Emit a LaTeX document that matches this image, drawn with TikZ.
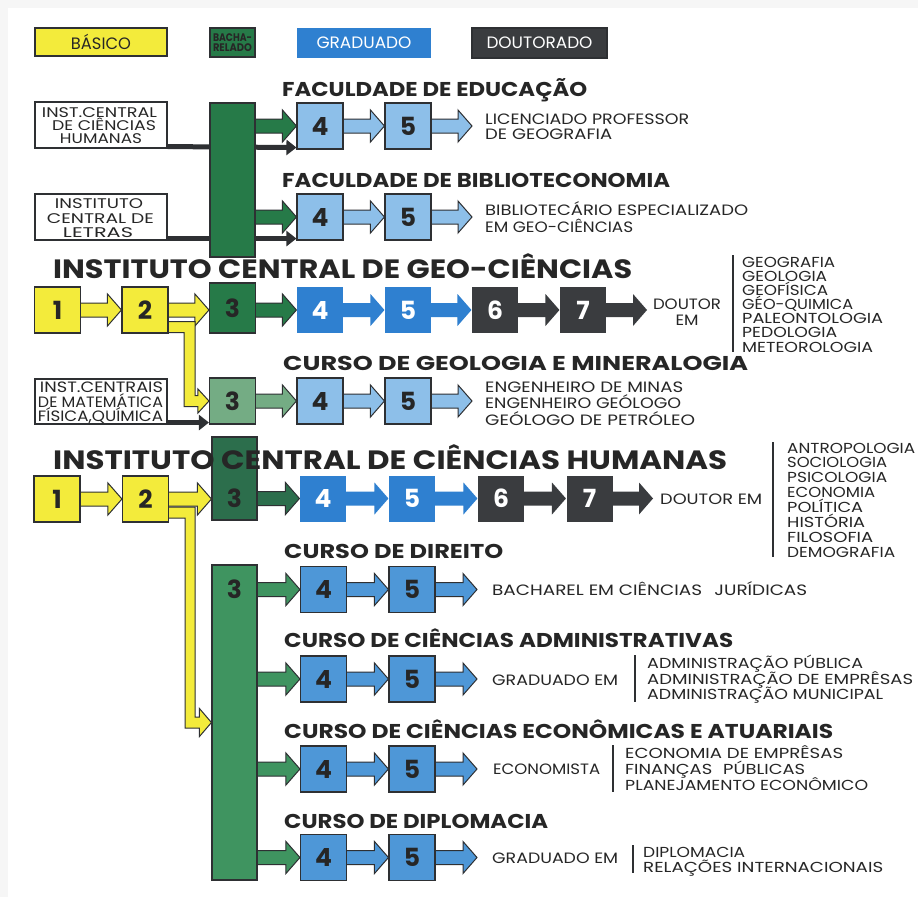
\documentclass[tikz,border=0pt]{standalone}
\usepackage{graphicx}
\usepackage{fontspec}
\setmainfont{Poppins}
\usetikzlibrary{calc,arrows.meta}
\pgfdeclarelayer{back}
\pgfdeclarelayer{arr}
\pgfsetlayers{back,arr,main}
\definecolor{ylw}{HTML}{F3EB3B}
\definecolor{dgreen}{HTML}{267A48}
\definecolor{hgreen}{HTML}{2C6E4C}
\definecolor{lgreen}{HTML}{74AC84}
\definecolor{mgreen}{HTML}{3F9460}
\definecolor{dblue}{HTML}{2F80D0}
\definecolor{lblue}{HTML}{8DBFE9}
\definecolor{mblue}{HTML}{4E97D7}
\definecolor{dark}{HTML}{3A3C3F}
\definecolor{outl}{HTML}{2E3033}
\definecolor{txt}{HTML}{262626}
\newcommand\numfont{\fontsize{25}{25}\selectfont\bfseries}
\newcommand\smfont{\fontsize{15}{15}\selectfont}
\newcommand\lstfont{\fontsize{14.5}{14.5}\selectfont}
\newcommand\ttlfont{\fontsize{20}{20}\selectfont\bfseries}
\newcommand\bigfont{\fontsize{26.5}{26.5}\selectfont\bfseries}
\newcommand\boxfont{\fontsize{14}{14}\selectfont}
\newcommand\legfont{\fontsize{16.5}{16.5}\selectfont}
\newcommand\fw[2]{\resizebox{#1pt}{\height}{#2}}
\newcommand\barrow[3]{\path[#1] let \p1=#2, \p2=#3 in
  (\x1-3pt,\y2+7pt) -- (\x2-14pt,\y2+7pt) -- (\x2-14pt,\y2+16pt) -- (\x2,\y2)
  -- (\x2-14pt,\y2-16pt) -- (\x2-14pt,\y2-7pt) -- (\x1-3pt,\y2-7pt) -- cycle;}
\begin{document}
\begin{tikzpicture}[x=1pt,y=-1pt,
  nbox/.style={draw=outl,line width=1.1pt,inner sep=0pt,minimum width=46pt,minimum height=46pt,font=\numfont,text=txt},
  nobox/.style={nbox,draw=none,text=white},
  leg/.style={draw=outl,line width=1.1pt,inner sep=0pt,font=\legfont,text=txt},
  wbox/.style={draw=outl,fill=white,line width=1.1pt,inner sep=0pt},
  colbox/.style={draw=outl,line width=1.1pt,inner sep=0pt},
  numtxt/.style={inner sep=0pt,font=\numfont,text=txt},
  bt/.style={anchor=base,inner sep=0pt,font=\boxfont,text=txt},
  ttl/.style={anchor=base west,inner sep=0pt,font=\ttlfont,text=txt},
  bigttl/.style={anchor=base west,inner sep=0pt,font=\bigfont,text=txt},
  lbl/.style={anchor=base west,inner sep=0pt,font=\smfont,text=txt},
  lblc/.style={anchor=base,inner sep=0pt,font=\smfont,text=txt},
  lst/.style={anchor=base west,inner sep=0pt,font=\lstfont,text=txt},
  sepline/.style={draw=outl,line width=1.6pt},
  thinarr/.style={draw=outl,line width=5pt,-{Triangle[length=10pt,width=15pt]}},
  oarr/.style={draw=outl,line width=1pt,line join=miter},
  yarr/.style={oarr,fill=ylw},
  garr/.style={oarr,fill=dgreen},
  hgarr/.style={oarr,fill=hgreen},
  lgarr/.style={oarr,fill=lgreen},
  mgarr/.style={oarr,fill=mgreen},
  lbarr/.style={oarr,fill=lblue},
  mbarr/.style={oarr,fill=mblue},
  dbarr/.style={fill=dblue},
  dkarr/.style={fill=dark}
]
\begin{pgfonlayer}{back}
\fill[gray!7] (0,0) rectangle (918,897);
\fill[white] (8,8) rectangle (918,897);
\end{pgfonlayer}
\useasboundingbox (0,0) rectangle (918,897);

% legend
\node[leg,fill=ylw,minimum width=132pt,minimum height=28pt] (legBas) at (101,42) {\fw{60}{BÁSICO}};
\node[leg,fill=dgreen,minimum width=45pt,minimum height=29pt,font=\fontsize{11}{10}\selectfont\bfseries,align=center] (legBac) at (232.5,42.5) {\fw{39}{BACHA-}\\\fw{39}{RELADO}};
\node[leg,fill=dblue,draw=none,text=white,minimum width=134pt,minimum height=30pt] (legGra) at (364,43) {\fw{95}{GRADUADO}};
\node[leg,fill=dark,text=white,minimum width=135pt,minimum height=30pt] (legDou) at (539.5,43) {\fw{106}{DOUTORADO}};

% left boxes
\node[wbox,minimum width=132pt,minimum height=46pt] (LB1) at (101,125) {};
\node[bt] (lb1a) at (99.5,117) {\fw{115}{INST.CENTRAL}};
\node[bt] (lb1b) at (104,130) {\fw{104}{DE CIÊNCIAS}};
\node[bt] (lb1c) at (101,143) {\fw{82}{HUMANAS}};
\node[wbox,minimum width=132pt,minimum height=46pt] (LB2) at (101,217) {};
\node[bt] (lb2a) at (99,208) {\fw{88}{INSTITUTO}};
\node[bt] (lb2b) at (100.5,223) {\fw{107}{CENTRAL DE}};
\node[bt] (lb2c) at (98,237) {\fw{70}{LETRAS}};
\node[wbox,minimum width=132pt,minimum height=45pt] (LB3) at (101,401.5) {};
\node[bt,font=\fontsize{15}{15}\selectfont] (lb3a) at (101.5,392) {\fw{123}{INST.CENTRAIS}};
\node[bt,font=\fontsize{15}{15}\selectfont] (lb3b) at (100.5,407) {\fw{125}{DE MATEMÁTICA}};
\node[bt,font=\fontsize{15}{15}\selectfont] (lb3c) at (100.5,421) {\fw{125}{FÍSICA,QUÍMICA}};

% columns
\node[colbox,fill=dgreen,minimum width=45pt,minimum height=154pt] (TopCol) at (232.5,180) {};
\node[colbox,fill=mgreen,minimum width=45pt,minimum height=315pt] (BotCol) at (234.5,722.5) {};
\node[numtxt] (botcol3) at (234.5,589.5) {3};

% rows
\node[nbox,fill=lblue] (E4) at (320,126) {4};
\node[nbox,fill=lblue] (E5) at (408,126) {5};
\node[nbox,fill=lblue] (B4) at (320,217) {4};
\node[nbox,fill=lblue] (B5) at (408,217) {5};

\node[nbox,fill=ylw] (G1) at (57.5,310) {1};
\node[nbox,fill=ylw] (G2) at (145,310) {2};
\node[nbox,fill=dgreen,minimum height=50pt] (G3) at (232.5,308) {3};
\node[nobox,fill=dblue] (G4) at (320,310) {4};
\node[nobox,fill=dblue] (G5) at (408,310) {5};
\node[nobox,fill=dark] (G6) at (495,310) {6};
\node[nobox,fill=dark] (G7) at (583,310) {7};

\node[nbox,fill=lgreen] (L3) at (232.5,401) {3};
\node[nbox,fill=lblue] (L4) at (320,401) {4};
\node[nbox,fill=lblue] (L5) at (408,401) {5};

\node[nbox,fill=ylw] (H1) at (57,499) {1};
\node[nbox,fill=ylw] (H2) at (145.5,499) {2};
\node[colbox,fill=hgreen,minimum width=45pt,minimum height=83pt] (H3) at (234.5,478.5) {};
\node[numtxt] (h3num) at (234.5,498.5) {3};
\node[nobox,fill=dblue] (H4) at (323,498.5) {4};
\node[nobox,fill=dblue] (H5) at (412,498.5) {5};
\node[nobox,fill=dark] (H6) at (501,498.5) {6};
\node[nobox,fill=dark] (H7) at (589.5,498.5) {7};

\node[nbox,fill=mblue] (D4) at (323.5,589.5) {4};
\node[nbox,fill=mblue] (D5) at (412,589.5) {5};
\node[nbox,fill=mblue] (A4) at (323.5,679) {4};
\node[nbox,fill=mblue] (A5) at (412,679) {5};
\node[nbox,fill=mblue] (C4) at (323.5,769) {4};
\node[nbox,fill=mblue] (C5) at (412,769) {5};
\node[nbox,fill=mblue] (P4) at (323.5,857.5) {4};
\node[nbox,fill=mblue] (P5) at (412,857.5) {5};

\coordinate (eE) at (472,126);
\coordinate (eB) at (472,217);
\coordinate (eL) at (472,401);
\coordinate (eG) at (647,310);
\coordinate (eH) at (653,498.5);
\coordinate (eD) at (477,589.5);
\coordinate (eA) at (477,679);
\coordinate (eC) at (477,769);
\coordinate (eP) at (477,857.5);

\begin{pgfonlayer}{arr}
\draw[thinarr] ($(LB1.south east)+(0,-2)$) -- ($(E4.south west)+(0,-2)$);
\draw[thinarr] ($(LB2.south east)+(0,-2)$) -- ($(B4.south west)+(0,-2)$);
\draw[thinarr] ($(LB3.south east)+(0,-2)$) -- ($(L3.south west)+(0,-2)$);

\barrow{garr}{(TopCol.east)}{(E4.west)}
\barrow{garr}{(TopCol.east)}{(B4.west)}
\barrow{lbarr}{(E4.east)}{(E5.west)}
\barrow{lbarr}{(E5.east)}{(eE)}
\barrow{lbarr}{(B4.east)}{(B5.west)}
\barrow{lbarr}{(B5.east)}{(eB)}

\barrow{yarr}{(G1.east)}{(G2.west)}
\barrow{yarr}{(G2.east)}{(G3.west |- G2.east)}
\barrow{garr}{(G3.east)}{(G4.west)}
\barrow{dbarr}{(G4.east)}{(G5.west)}
\barrow{dbarr}{(G5.east)}{(G6.west)}
\barrow{dkarr}{(G6.east)}{(G7.west)}
\barrow{dkarr}{(G7.east)}{(eG)}

\barrow{lgarr}{(L3.east)}{(L4.west)}
\barrow{lbarr}{(L4.east)}{(L5.west)}
\barrow{lbarr}{(L5.east)}{(eL)}

\barrow{yarr}{(H1.east)}{(H2.west)}
\barrow{yarr}{(H2.east)}{(H3.west |- H2.east)}
\barrow{hgarr}{(H3.east)}{(H4.west)}
\barrow{dbarr}{(H4.east)}{(H5.west)}
\barrow{dbarr}{(H5.east)}{(H6.west)}
\barrow{dkarr}{(H6.east)}{(H7.west)}
\barrow{dkarr}{(H7.east)}{(eH)}

\barrow{mgarr}{(BotCol.east)}{(D4.west)}
\barrow{mgarr}{(BotCol.east)}{(A4.west)}
\barrow{mgarr}{(BotCol.east)}{(C4.west)}
\barrow{mgarr}{(BotCol.east)}{(P4.west)}
\barrow{mbarr}{(D4.east)}{(D5.west)}
\barrow{mbarr}{(D5.east)}{(eD)}
\barrow{mbarr}{(A4.east)}{(A5.west)}
\barrow{mbarr}{(A5.east)}{(eA)}
\barrow{mbarr}{(C4.east)}{(C5.west)}
\barrow{mbarr}{(C5.east)}{(eC)}
\barrow{mbarr}{(P4.east)}{(P5.west)}
\barrow{mbarr}{(P5.east)}{(eP)}

% yellow branches
\path[yarr] let \p1=(G2.east), \p2=(L3.west) in
  (\x1-3pt,\y1-11.5pt) -- (\x1+26.5pt,\y1-11.5pt) -- (\x1+26.5pt,\y2+5.5pt)
  -- (\x2-11pt,\y2+5.5pt) -- (\x2-11pt,\y2+12pt) -- (\x2,\y2) -- (\x2-11pt,\y2-12pt)
  -- (\x2-11pt,\y2-5.5pt) -- (\x1+15.5pt,\y2-5.5pt) -- (\x1+15.5pt,\y1-22.5pt)
  -- (\x1-3pt,\y1-22.5pt) -- cycle;
\path[yarr] let \p1=(H2.east), \p2=(BotCol.west) in
  (\x1-3pt,\y1-8pt) -- (\x1+26pt,\y1-8pt) -- (\x1+26pt,\y2+5.5pt)
  -- (\x2-12pt,\y2+5.5pt) -- (\x2-12pt,\y2+14pt) -- (\x2,\y2) -- (\x2-12pt,\y2-14pt)
  -- (\x2-12pt,\y2-5.5pt) -- (\x1+16pt,\y2-5.5pt) -- (\x1+16pt,\y1-19pt)
  -- (\x1-3pt,\y1-19pt) -- cycle;
\end{pgfonlayer}

% titles
\node[ttl] (tE) at (282,96) {\fw{305}{FACULDADE DE EDUCAÇÃO}};
\node[ttl] (tB) at (282,187) {\fw{388}{FACULDADE DE BIBLIOTECONOMIA}};
\node[bigttl] (tG) at (53,278) {\fw{579}{INSTITUTO CENTRAL DE GEO-CIÊNCIAS}};
\node[ttl] (tL) at (283,370) {\fw{465}{CURSO DE GEOLOGIA E MINERALOGIA}};
\node[bigttl] (tH) at (53,469) {\fw{674}{INSTITUTO CENTRAL DE CIÊNCIAS HUMANAS}};
\node[ttl] (tD) at (284,558) {\fw{219}{CURSO DE DIREITO}};
\node[ttl] (tA) at (284,647) {\fw{449}{CURSO DE CIÊNCIAS ADMINISTRATIVAS}};
\node[ttl] (tC) at (284,738) {\fw{549}{CURSO DE CIÊNCIAS ECONÔMICAS E ATUARIAIS}};
\node[ttl] (tP) at (284,828) {\fw{264}{CURSO DE DIPLOMACIA}};

% texts
\node[lbl] (xE1) at (485,124) {\fw{204}{LICENCIADO PROFESSOR}};
\node[lbl] (xE2) at (485,139) {\fw{127}{DE GEOGRAFIA}};
\node[lbl] (xB1) at (485,215) {\fw{263}{BIBLIOTECÁRIO ESPECIALIZADO}};
\node[lbl] (xB2) at (485,232) {\fw{148}{EM GEO-CIÊNCIAS}};
\node[lblc] (xG1) at (687,309) {\fw{68}{DOUTOR}};
\node[lblc] (xG2) at (687,325) {\fw{23}{EM}};
\coordinate (sG1) at (733,255); \coordinate (sG2) at (733,352);
\draw[sepline] (sG1) -- (sG2);
\foreach \t/\w [count=\i from 0] in {GEOGRAFIA/93,GEOLOGIA/85,GEOFÍSICA/86,GÉO-QUIMICA/111,PALEONTOLOGIA/141,PEDOLOGIA/95,METEOROLOGIA/131}
  \node[lst] (gl\i) at (742,267+14.17*\i) {\fw{\w}{\t}};
\node[lbl] (xL1) at (485,392) {\fw{198}{ENGENHEIRO DE MINAS}};
\node[lbl] (xL2) at (485,408.5) {\fw{196}{ENGENHEIRO GEÓLOGO}};
\node[lbl] (xL3) at (485,425) {\fw{210}{GEÓLOGO DE PETRÓLEO}};
\node[lbl] (xH1) at (660,504) {\fw{102}{DOUTOR EM}};
\coordinate (sH1) at (773,442); \coordinate (sH2) at (773,557);
\draw[sepline] (sH1) -- (sH2);
\foreach \t/\w [count=\i from 0] in {ANTROPOLOGIA/128,SOCIOLOGIA/100,PSICOLOGIA/100,ECONOMIA/88,POLÍTICA/76,HISTÓRIA/78,FILOSOFIA/86,DEMOGRAFIA/108}
  \node[lst] (hl\i) at (787,453+14.86*\i) {\fw{\w}{\t}};
\node[lbl] (xD1) at (492,595) {\fw{315}{BACHAREL EM CIÊNCIAS\hspace{6pt} JURÍDICAS}};
\node[lbl] (xA1) at (492,685) {\fw{126}{GRADUADO EM}};
\coordinate (sA1) at (635,655); \coordinate (sA2) at (635,702);
\draw[sepline] (sA1) -- (sA2);
\node[lst] (al1) at (647,668) {\fw{216}{ADMINISTRAÇÃO PÚBLICA}};
\node[lst] (al2) at (647,684) {\fw{266}{ADMINISTRAÇÃO DE EMPRÊSAS}};
\node[lst] (al3) at (647,699) {\fw{236}{ADMINISTRAÇÃO MUNICIPAL}};
\node[lbl] (xC1) at (493,774) {\fw{107}{ECONOMISTA}};
\coordinate (sC1) at (613,745); \coordinate (sC2) at (613,792);
\draw[sepline] (sC1) -- (sC2);
\node[lst] (cl1) at (625,758) {\fw{218}{ECONOMIA DE EMPRÊSAS}};
\node[lst] (cl2) at (625,774) {\fw{180}{FINANÇAS\hspace{5pt} PÚBLICAS}};
\node[lst] (cl3) at (625,790) {\fw{243}{PLANEJAMENTO ECONÔMICO}};
\node[lbl] (xP1) at (492,863) {\fw{126}{GRADUADO EM}};
\coordinate (sP1) at (633,845); \coordinate (sP2) at (633,873);
\draw[sepline] (sP1) -- (sP2);
\node[lst] (pl1) at (643,857) {\fw{102}{DIPLOMACIA}};
\node[lst] (pl2) at (643,872) {\fw{240}{RELAÇÕES INTERNACIONAIS}};
\end{tikzpicture}
\end{document}
